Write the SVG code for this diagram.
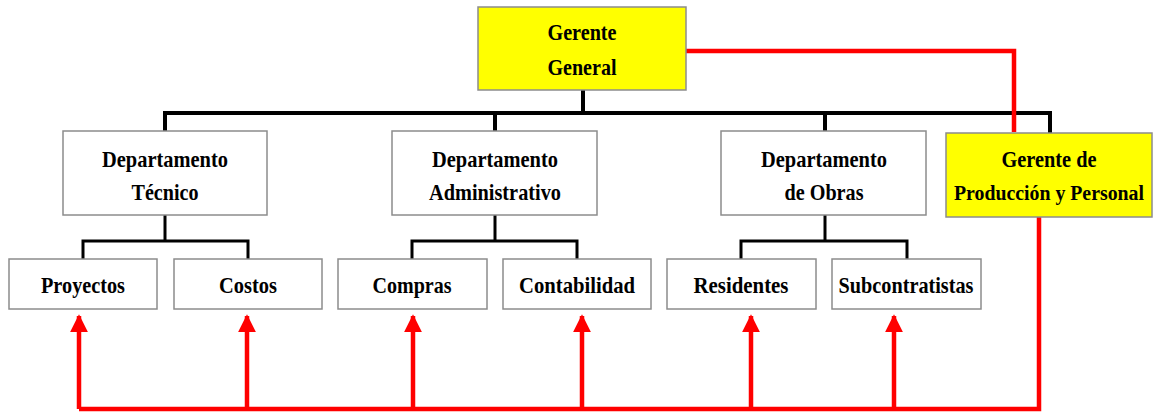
<svg xmlns="http://www.w3.org/2000/svg" width="1153" height="412" viewBox="0 0 1153 412">
<style>
.box{fill:#fff;stroke:#8c8c8c;stroke-width:1.5}
.yel{fill:#ffff00;stroke:#8c8c8c;stroke-width:1.5}
.t{font-family:"Liberation Serif","Times New Roman",serif;font-weight:bold;font-size:23px;fill:#000;text-anchor:middle}
.blk{fill:none;stroke:#000;stroke-width:4}
.blk2{fill:none;stroke:#000;stroke-width:3}
.red{fill:none;stroke:#ff0000;stroke-width:4.5}
</style>
<defs>
<marker id="ah" markerWidth="4" markerHeight="4" viewBox="0 0 10 10" refX="9" refY="5" orient="auto" markerUnits="strokeWidth">
<path d="M0,0 L10,5 L0,10 z" fill="#ff0000"/>
</marker>
</defs>
<g id="connectors">
<path class="blk" d="M583,90 V113"/>
<path class="blk" d="M165,133 V113 H1050 V133"/>
<path class="blk" d="M495,113 V131"/>
<path class="blk" d="M825,113 V131"/>
<path class="blk2" d="M165,215 V241"/>
<path class="blk2" d="M83,259 V241 H248 V259"/>
<path class="blk2" d="M495,215 V241"/>
<path class="blk2" d="M412,259 V241 H577 V259"/>
<path class="blk2" d="M825,215 V241"/>
<path class="blk2" d="M741,259 V241 H907 V259"/>
<path class="red" d="M686,51 H1014 V132"/>
<path class="red" d="M1039,217 V409 H79"/>
<path class="red" d="M79,409 V316" marker-end="url(#ah)"/>
<path class="red" d="M247,409 V316" marker-end="url(#ah)"/>
<path class="red" d="M413,409 V316" marker-end="url(#ah)"/>
<path class="red" d="M582,409 V316" marker-end="url(#ah)"/>
<path class="red" d="M751,409 V316" marker-end="url(#ah)"/>
<path class="red" d="M894,409 V316" marker-end="url(#ah)"/>
</g>
<g id="gerente-general">
<rect class="yel" x="478" y="7" width="208" height="83"/>
<text class="t" x="582" y="40" textLength="69" lengthAdjust="spacingAndGlyphs">Gerente</text>
<text class="t" x="582" y="75" textLength="69" lengthAdjust="spacingAndGlyphs">General</text>
</g>
<g id="dep-tecnico">
<rect class="box" x="63" y="131" width="204" height="84"/>
<text class="t" x="165" y="167" textLength="126" lengthAdjust="spacingAndGlyphs">Departamento</text>
<text class="t" x="165" y="200" textLength="67" lengthAdjust="spacingAndGlyphs">Técnico</text>
</g>
<g id="dep-administrativo">
<rect class="box" x="392" y="131" width="205" height="84"/>
<text class="t" x="495" y="167" textLength="126" lengthAdjust="spacingAndGlyphs">Departamento</text>
<text class="t" x="495" y="200" textLength="132" lengthAdjust="spacingAndGlyphs">Administrativo</text>
</g>
<g id="dep-obras">
<rect class="box" x="721" y="131" width="205" height="84"/>
<text class="t" x="824" y="167" textLength="126" lengthAdjust="spacingAndGlyphs">Departamento</text>
<text class="t" x="824" y="200" textLength="79" lengthAdjust="spacingAndGlyphs">de Obras</text>
</g>
<g id="gerente-produccion">
<rect class="yel" x="946" y="133" width="206" height="84"/>
<text class="t" x="1049" y="167" textLength="95" lengthAdjust="spacingAndGlyphs">Gerente de</text>
<text class="t" x="1049" y="200" style="font-size:20.5px" textLength="190" lengthAdjust="spacingAndGlyphs">Producción y Personal</text>
</g>
<g id="proyectos">
<rect class="box" x="9" y="259" width="148" height="50"/>
<text class="t" x="83" y="293" textLength="84" lengthAdjust="spacingAndGlyphs">Proyectos</text>
</g>
<g id="costos">
<rect class="box" x="174" y="259" width="148" height="50"/>
<text class="t" x="248" y="293" textLength="58" lengthAdjust="spacingAndGlyphs">Costos</text>
</g>
<g id="compras">
<rect class="box" x="338" y="259" width="149" height="50"/>
<text class="t" x="412" y="293" textLength="79" lengthAdjust="spacingAndGlyphs">Compras</text>
</g>
<g id="contabilidad">
<rect class="box" x="503" y="259" width="148" height="50"/>
<text class="t" x="577" y="293" textLength="116" lengthAdjust="spacingAndGlyphs">Contabilidad</text>
</g>
<g id="residentes">
<rect class="box" x="667" y="259" width="149" height="50"/>
<text class="t" x="741" y="293" textLength="95" lengthAdjust="spacingAndGlyphs">Residentes</text>
</g>
<g id="subcontratistas">
<rect class="box" x="832" y="259" width="149" height="50"/>
<text class="t" x="906" y="293" textLength="135" lengthAdjust="spacingAndGlyphs">Subcontratistas</text>
</g>
</svg>
